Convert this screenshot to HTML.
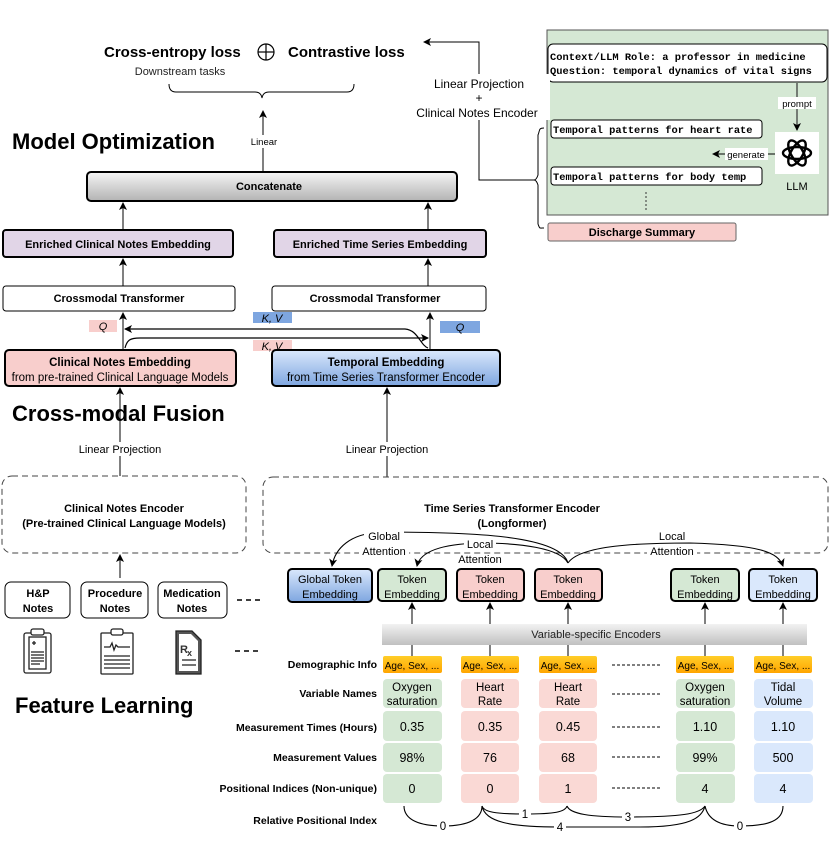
<!DOCTYPE html>
<html><head><meta charset="utf-8"><style>
html,body{margin:0;padding:0;background:#fff;}
svg{display:block;font-family:"Liberation Sans",Arial,sans-serif;}
</style></head><body>
<svg width="830" height="852" viewBox="0 0 830 852" xmlns="http://www.w3.org/2000/svg">
<defs>
<marker id="a" markerWidth="8" markerHeight="8" refX="7" refY="4" orient="auto" markerUnits="userSpaceOnUse"><path d="M0,0 L8,4 L0,8 L2,4 Z" fill="#000"/></marker>
<linearGradient id="gg" x1="0" y1="0" x2="0" y2="1"><stop offset="0" stop-color="#f5f5f5"/><stop offset="1" stop-color="#b3b3b3"/></linearGradient>
<linearGradient id="gb" x1="0" y1="0" x2="0" y2="1"><stop offset="0" stop-color="#dae8fc"/><stop offset="1" stop-color="#7ea6e0"/></linearGradient>
<linearGradient id="go" x1="0" y1="0" x2="0" y2="1"><stop offset="0" stop-color="#ffcd28"/><stop offset="1" stop-color="#ffa500"/></linearGradient>
<linearGradient id="gv" x1="0" y1="0" x2="0" y2="1"><stop offset="0" stop-color="#f2f2f2"/><stop offset="1" stop-color="#c0c0c0"/></linearGradient>
</defs>

<text x="104" y="57" font-size="15" font-weight="bold">Cross-entropy loss</text>
<circle cx="266" cy="52" r="8" fill="none" stroke="#000" stroke-width="1.2"/>
<line x1="258" y1="52" x2="274" y2="52" stroke="#000" stroke-width="1.2"/><line x1="266" y1="44" x2="266" y2="60" stroke="#000" stroke-width="1.2"/>
<text x="288" y="57" font-size="15" font-weight="bold">Contrastive loss</text>
<text x="180" y="75" font-size="11" text-anchor="middle" fill="#222">Downstream tasks</text>
<path d="M169,84 Q169,92 176,92 L255,92 Q261,92 262,98 Q263,92 269,92 L347,92 Q354,92 354,84" fill="none" stroke="#000" stroke-width="1"/>
<line x1="263" y1="171" x2="263" y2="111" stroke="#000" marker-end="url(#a)"/>
<rect x="248" y="135" width="32" height="13" fill="#fff"/>
<text x="264" y="145" font-size="9.5" text-anchor="middle">Linear</text>
<text x="12" y="149" font-size="22" font-weight="bold">Model Optimization</text>

<rect x="87" y="172" width="370" height="29" rx="4" fill="url(#gg)" stroke="#000" stroke-width="2"/>
<text x="269" y="190" font-size="11" font-weight="bold" text-anchor="middle">Concatenate</text>
<line x1="123" y1="230" x2="123" y2="203" stroke="#000" marker-end="url(#a)"/>
<line x1="428" y1="230" x2="428" y2="203" stroke="#000" marker-end="url(#a)"/>

<rect x="3" y="230" width="230" height="27" rx="3" fill="#e1d5e7" stroke="#000" stroke-width="2"/>
<text x="118" y="248" font-size="11" font-weight="bold" text-anchor="middle">Enriched Clinical Notes Embedding</text>
<rect x="274" y="230" width="212" height="27" rx="3" fill="#e1d5e7" stroke="#000" stroke-width="2"/>
<text x="380" y="248" font-size="11" font-weight="bold" text-anchor="middle">Enriched Time Series Embedding</text>
<line x1="123" y1="286" x2="123" y2="259" stroke="#000" marker-end="url(#a)"/>
<line x1="428" y1="286" x2="428" y2="259" stroke="#000" marker-end="url(#a)"/>

<rect x="3" y="286" width="232" height="25" rx="3" fill="#fff" stroke="#000" stroke-width="1"/>
<text x="119" y="302" font-size="11" font-weight="bold" text-anchor="middle">Crossmodal Transformer</text>
<rect x="272" y="286" width="214" height="25" rx="3" fill="#fff" stroke="#000" stroke-width="1"/>
<text x="375" y="302" font-size="11" font-weight="bold" text-anchor="middle">Crossmodal Transformer</text>

<line x1="123" y1="350" x2="123" y2="313" stroke="#000" marker-end="url(#a)"/>
<line x1="430" y1="350" x2="430" y2="313" stroke="#000" marker-end="url(#a)"/>
<rect x="89" y="320" width="28" height="12" fill="#f8cecc"/><text x="103" y="330" font-size="11" font-style="italic" text-anchor="middle">Q</text>
<rect x="253" y="312" width="39" height="11" fill="#7ea6e0"/><text x="272" y="322" font-size="11" font-style="italic" text-anchor="middle">K, V</text>
<rect x="440" y="321" width="40" height="12" fill="#7ea6e0"/><text x="460" y="331" font-size="11" font-style="italic" text-anchor="middle">Q</text>
<rect x="253" y="340" width="39" height="11" fill="#f8cecc"/><text x="272" y="350" font-size="11" font-style="italic" text-anchor="middle">K, V</text>
<path d="M428,348 C420,345 418,330 405,329 L125,329" fill="none" stroke="#000" stroke-width="1.2" marker-end="url(#a)"/>
<path d="M125,348 C127,340 130,338 140,338 L428,338" fill="none" stroke="#000" stroke-width="1.2" marker-end="url(#a)"/>

<rect x="5" y="350" width="231" height="36" rx="4" fill="#f8cecc" stroke="#000" stroke-width="2"/>
<text x="120" y="366" font-size="11.5" font-weight="bold" text-anchor="middle">Clinical Notes Embedding</text>
<text x="120" y="381" font-size="11.5" text-anchor="middle">from pre-trained Clinical Language Models</text>
<rect x="272" y="350" width="228" height="36" rx="4" fill="url(#gb)" stroke="#000" stroke-width="2"/>
<text x="386" y="366" font-size="11.5" font-weight="bold" text-anchor="middle">Temporal Embedding</text>
<text x="386" y="381" font-size="11.5" text-anchor="middle">from Time Series Transformer Encoder</text>

<text x="12" y="421" font-size="22" font-weight="bold">Cross-modal Fusion</text>
<line x1="120" y1="476" x2="120" y2="388" stroke="#000" marker-end="url(#a)"/>
<rect x="68" y="442" width="104" height="14" fill="#fff"/>
<text x="120" y="453" font-size="11" text-anchor="middle">Linear Projection</text>
<line x1="387" y1="477" x2="387" y2="388" stroke="#000" marker-end="url(#a)"/>
<rect x="336" y="442" width="102" height="14" fill="#fff"/>
<text x="387" y="453" font-size="11" text-anchor="middle">Linear Projection</text>

<rect x="2" y="476" width="244" height="77" rx="10" fill="none" stroke="#444" stroke-dasharray="6,4"/>
<text x="124" y="512" font-size="11" font-weight="bold" text-anchor="middle">Clinical Notes Encoder</text>
<text x="124" y="527" font-size="11" font-weight="bold" text-anchor="middle">(Pre-trained Clinical Language Models)</text>
<rect x="263" y="477" width="565" height="76" rx="10" fill="none" stroke="#444" stroke-dasharray="6,4"/>
<text x="512" y="512" font-size="11" font-weight="bold" text-anchor="middle">Time Series Transformer Encoder</text>
<text x="512" y="527" font-size="11" font-weight="bold" text-anchor="middle">(Longformer)</text>

<path d="M568,563 C560,535 470,532 380,532 C350,534 335,548 332,566" fill="none" stroke="#000" stroke-width="1.1" marker-end="url(#a)"/>
<path d="M568,563 C560,548 520,543 480,543 C440,544 420,552 417,566" fill="none" stroke="#000" stroke-width="1.1" marker-end="url(#a)"/>
<path d="M568,563 C580,545 640,543 690,543 C760,545 778,552 783,566" fill="none" stroke="#000" stroke-width="1.1" marker-end="url(#a)"/>
<rect x="364" y="530" width="40" height="12" fill="#fff"/><text x="384" y="540" font-size="11" text-anchor="middle">Global</text>
<rect x="359" y="545" width="50" height="12" fill="#fff"/><text x="384" y="555" font-size="11" text-anchor="middle">Attention</text>
<rect x="464" y="538" width="32" height="12" fill="#fff"/><text x="480" y="548" font-size="11" text-anchor="middle">Local</text>
<text x="480" y="563" font-size="11" text-anchor="middle">Attention</text>
<rect x="655" y="530" width="34" height="12" fill="#fff"/><text x="672" y="540" font-size="11" text-anchor="middle">Local</text>
<rect x="647" y="545" width="50" height="12" fill="#fff"/><text x="672" y="555" font-size="11" text-anchor="middle">Attention</text>

<line x1="120" y1="578" x2="120" y2="555" stroke="#000" marker-end="url(#a)"/>
<rect x="5" y="582" width="65" height="36" rx="6" fill="#fff" stroke="#000"/>
<text x="38" y="597" font-size="11" font-weight="bold" text-anchor="middle">H&amp;P</text><text x="38" y="612" font-size="11" font-weight="bold" text-anchor="middle">Notes</text>
<rect x="81" y="582" width="67" height="36" rx="6" fill="#fff" stroke="#000"/>
<text x="115" y="597" font-size="11" font-weight="bold" text-anchor="middle">Procedure</text><text x="115" y="612" font-size="11" font-weight="bold" text-anchor="middle">Notes</text>
<rect x="158" y="582" width="69" height="36" rx="6" fill="#fff" stroke="#000"/>
<text x="192" y="597" font-size="11" font-weight="bold" text-anchor="middle">Medication</text><text x="192" y="612" font-size="11" font-weight="bold" text-anchor="middle">Notes</text>
<line x1="237" y1="600" x2="262" y2="600" stroke="#000" stroke-width="1.5" stroke-dasharray="5,4"/>
<line x1="235" y1="651" x2="260" y2="651" stroke="#000" stroke-width="1.5" stroke-dasharray="5,4"/>
<g fill="none" stroke="#222" stroke-width="1.3">
<rect x="24" y="633" width="27" height="40" rx="2"/><rect x="29" y="637" width="17" height="32" fill="#fff"/><rect x="31" y="629" width="13" height="6" rx="2" fill="#fff"/>
<path d="M32,643 h4 M34,641 v4"/><path d="M31,652 h13 M31,655 h13 M31,658 h13 M31,661 h13 M31,664 h9"/>
<rect x="101" y="633" width="32" height="41" rx="1"/><rect x="111" y="629" width="12" height="6" rx="2" fill="#fff"/>
<path d="M104,647 h6 l2,-4 l2,7 l2,-5 l2,2 h12"/><path d="M104,656 h26 M104,660 h26 M104,664 h26 M104,668 h26"/>
<path d="M176,631 h16 l9,9 v34 h-25 z" fill="#555"/><path d="M179,634 h12 l7,7 v30 h-19 z" fill="#fff" stroke="none"/>
<path d="M182,660 h14 M182,665 h14"/>
</g>
<text x="180" y="653" font-size="11" font-weight="bold" fill="#333">R</text><text x="187" y="656" font-size="9" font-weight="bold" fill="#333">x</text>
<text x="15" y="713" font-size="22" font-weight="bold">Feature Learning</text>

<rect x="288" y="569" width="84" height="33" rx="4" fill="url(#gb)" stroke="#000" stroke-width="2"/>
<text x="330" y="583" font-size="11" text-anchor="middle">Global Token</text><text x="330" y="598" font-size="11" text-anchor="middle">Embedding</text>
<g font-size="11" text-anchor="middle">
<rect x="378" y="569" width="68" height="32" rx="4" fill="#d5e8d4" stroke="#000" stroke-width="2"/><text x="412" y="583">Token</text><text x="412" y="598">Embedding</text>
<rect x="457" y="569" width="67" height="32" rx="4" fill="#f8cecc" stroke="#000" stroke-width="2"/><text x="490" y="583">Token</text><text x="490" y="598">Embedding</text>
<rect x="535" y="569" width="67" height="32" rx="4" fill="#f8cecc" stroke="#000" stroke-width="2"/><text x="568" y="583">Token</text><text x="568" y="598">Embedding</text>
<rect x="671" y="569" width="68" height="32" rx="4" fill="#d5e8d4" stroke="#000" stroke-width="2"/><text x="705" y="583">Token</text><text x="705" y="598">Embedding</text>
<rect x="749" y="569" width="68" height="32" rx="4" fill="#dae8fc" stroke="#000" stroke-width="2"/><text x="783" y="583">Token</text><text x="783" y="598">Embedding</text>
</g>
<g stroke="#000">
<line x1="412" y1="656" x2="412" y2="603" marker-end="url(#a)"/>
<line x1="490" y1="656" x2="490" y2="603" marker-end="url(#a)"/>
<line x1="568" y1="656" x2="568" y2="603" marker-end="url(#a)"/>
<line x1="705" y1="656" x2="705" y2="603" marker-end="url(#a)"/>
<line x1="783" y1="656" x2="783" y2="603" marker-end="url(#a)"/>
</g>
<rect x="382" y="624" width="425" height="21" fill="url(#gv)"/>
<text x="596" y="638" font-size="11" text-anchor="middle" fill="#222">Variable-specific Encoders</text>

<g font-size="10.5" font-weight="bold" text-anchor="end">
<text x="377" y="668">Demographic Info</text>
<text x="377" y="697">Variable Names</text>
<text x="377" y="731">Measurement Times (Hours)</text>
<text x="377" y="761">Measurement Values</text>
<text x="377" y="792">Positional Indices (Non-unique)</text>
<text x="377" y="824">Relative Positional Index</text>
</g>
<g font-size="10" text-anchor="middle">
<rect x="383" y="656" width="59" height="17" rx="2" fill="url(#go)"/><text x="412" y="669">Age, Sex, ...</text>
<rect x="461" y="656" width="58" height="17" rx="2" fill="url(#go)"/><text x="490" y="669">Age, Sex, ...</text>
<rect x="539" y="656" width="58" height="17" rx="2" fill="url(#go)"/><text x="568" y="669">Age, Sex, ...</text>
<rect x="676" y="656" width="58" height="17" rx="2" fill="url(#go)"/><text x="705" y="669">Age, Sex, ...</text>
<rect x="754" y="656" width="58" height="17" rx="2" fill="url(#go)"/><text x="783" y="669">Age, Sex, ...</text>
</g>
<g font-size="11.5" text-anchor="middle">
<g fill="#d5e8d4"><rect x="383" y="679" width="59" height="29" rx="4"/><rect x="383" y="711" width="59" height="30" rx="4"/><rect x="383" y="743" width="59" height="29" rx="4"/><rect x="383" y="774" width="59" height="29" rx="4"/>
<rect x="676" y="679" width="59" height="29" rx="4"/><rect x="676" y="711" width="59" height="30" rx="4"/><rect x="676" y="743" width="59" height="29" rx="4"/><rect x="676" y="774" width="59" height="29" rx="4"/></g>
<g fill="#fad9d5"><rect x="461" y="679" width="58" height="29" rx="4"/><rect x="461" y="711" width="58" height="30" rx="4"/><rect x="461" y="743" width="58" height="29" rx="4"/><rect x="461" y="774" width="58" height="29" rx="4"/>
<rect x="539" y="679" width="58" height="29" rx="4"/><rect x="539" y="711" width="58" height="30" rx="4"/><rect x="539" y="743" width="58" height="29" rx="4"/><rect x="539" y="774" width="58" height="29" rx="4"/></g>
<g fill="#dae8fc"><rect x="754" y="679" width="59" height="29" rx="4"/><rect x="754" y="711" width="59" height="30" rx="4"/><rect x="754" y="743" width="59" height="29" rx="4"/><rect x="754" y="774" width="59" height="29" rx="4"/></g>
<text x="412" y="691">Oxygen</text><text x="412" y="705">saturation</text>
<text x="490" y="691">Heart</text><text x="490" y="705">Rate</text>
<text x="568" y="691">Heart</text><text x="568" y="705">Rate</text>
<text x="705" y="691">Oxygen</text><text x="705" y="705">saturation</text>
<text x="783" y="691">Tidal</text><text x="783" y="705">Volume</text>
<g font-size="12.5">
<text x="412" y="731">0.35</text><text x="490" y="731">0.35</text><text x="568" y="731">0.45</text><text x="705" y="731">1.10</text><text x="783" y="731">1.10</text>
<text x="412" y="762">98%</text><text x="490" y="762">76</text><text x="568" y="762">68</text><text x="705" y="762">99%</text><text x="783" y="762">500</text>
<text x="412" y="793">0</text><text x="490" y="793">0</text><text x="568" y="793">1</text><text x="705" y="793">4</text><text x="783" y="793">4</text>
</g>
</g>
<g stroke="#000" stroke-dasharray="3,2">
<line x1="612" y1="665" x2="660" y2="665"/><line x1="612" y1="694" x2="660" y2="694"/><line x1="612" y1="727" x2="660" y2="727"/><line x1="612" y1="757" x2="660" y2="757"/><line x1="612" y1="788" x2="660" y2="788"/>
</g>
<g fill="none" stroke="#000" stroke-width="1.1">
<path d="M404,806 C404,820 420,826 443,826 C470,826 482,818 482,806"/>
<path d="M482,806 C484,812 495,814 525,814 C555,814 565,812 567,806"/>
<path d="M482,806 C485,822 510,827 560,827 L640,827 C690,827 702,818 705,806"/>
<path d="M567,806 C570,814 590,817 628,817 C680,817 700,814 705,806"/>
<path d="M705,806 C708,820 720,826 740,826 C770,826 783,820 783,806"/>
</g>
<g font-size="11.5" text-anchor="middle">
<rect x="437" y="819" width="12" height="13" fill="#fff"/><text x="443" y="830">0</text>
<rect x="519" y="807" width="12" height="13" fill="#fff"/><text x="525" y="818">1</text>
<rect x="554" y="820" width="12" height="13" fill="#fff"/><text x="560" y="831">4</text>
<rect x="622" y="810" width="12" height="13" fill="#fff"/><text x="628" y="821">3</text>
<rect x="734" y="819" width="12" height="13" fill="#fff"/><text x="740" y="830">0</text>
</g>

<rect x="547" y="30" width="281" height="185" fill="#d5e8d4" stroke="#555"/>
<rect x="548" y="44" width="279" height="38" rx="5" fill="#fff" stroke="#000"/>
<g font-family="Liberation Mono, monospace" font-size="10.4" font-weight="bold">
<text x="550" y="60">Context/LLM Role: a professor in medicine</text>
<text x="550" y="74">Question: temporal dynamics of vital signs</text>
</g>
<line x1="797" y1="83" x2="797" y2="130" stroke="#333" stroke-width="1.2" marker-end="url(#a)"/>
<rect x="778" y="97" width="38" height="12" fill="#fff"/><text x="797" y="107" font-size="9.5" text-anchor="middle">prompt</text>
<rect x="775" y="132" width="44" height="42" fill="#fff"/>
<g fill="none" stroke="#000" stroke-width="2.4">
<ellipse cx="797" cy="153" rx="14" ry="6"/>
<ellipse cx="797" cy="153" rx="14" ry="6" transform="rotate(60 797 153)"/>
<ellipse cx="797" cy="153" rx="14" ry="6" transform="rotate(120 797 153)"/>
</g>
<text x="797" y="190" font-size="11" text-anchor="middle">LLM</text>
<line x1="775" y1="154" x2="713" y2="154" stroke="#000" marker-end="url(#a)"/>
<rect x="725" y="148" width="43" height="12" fill="#fff"/><text x="746" y="158" font-size="9.5" text-anchor="middle">generate</text>
<rect x="551" y="120" width="211" height="18" rx="3" fill="#fff" stroke="#000"/>
<rect x="551" y="167" width="211" height="18" rx="3" fill="#fff" stroke="#000"/>
<g font-family="Liberation Mono, monospace" font-size="10.4" font-weight="bold">
<text x="553" y="133">Temporal patterns for heart rate</text>
<text x="553" y="180">Temporal patterns for body temp</text>
</g>
<line x1="646" y1="192" x2="646" y2="211" stroke="#333" stroke-dasharray="2,2"/>
<rect x="548" y="223" width="188" height="18" rx="2" fill="#f8cecc" stroke="#666"/>
<text x="642" y="236" font-size="11" font-weight="bold" text-anchor="middle">Discharge Summary</text>
<path d="M544,128 C538,128 540,131 538,135 L538,175 C537,178 536,180 534,180 C536,180 537,182 538,185 L538,224 C540,229 539,228 544,228" fill="none" stroke="#000"/>
<path d="M534,180 L479,180 L479,42 L424,42" fill="none" stroke="#000" marker-end="url(#a)"/>
<rect x="410" y="74" width="140" height="46" fill="#fff"/>
<g font-size="12" text-anchor="middle">
<text x="479" y="88">Linear Projection</text>
<text x="479" y="102">+</text>
<text x="477" y="117">Clinical Notes Encoder</text>
</g>
</svg>
</body></html>
